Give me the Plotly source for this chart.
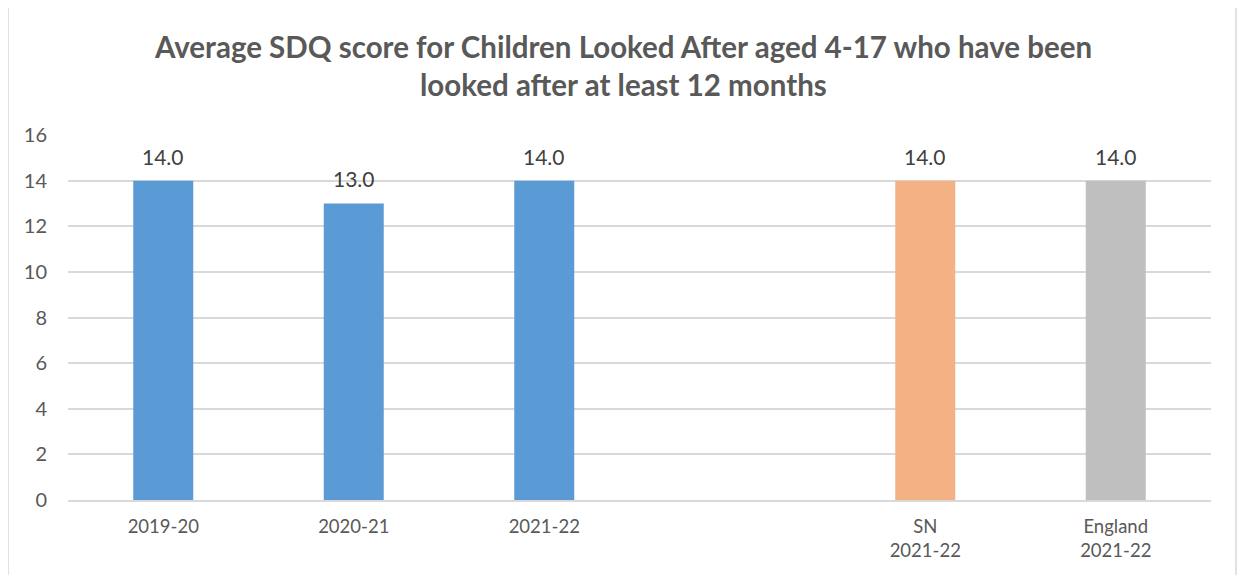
import plotly.graph_objects as go

categories = ["2019-20", "2020-21", "2021-22", " ", "SN<br>2021-22", "England<br>2021-22"]
scores = [14.0, 13.0, 14.0, None, 14.0, 14.0]
bar_colors = ["#5B9BD5", "#5B9BD5", "#5B9BD5", "#5B9BD5", "#F4B183", "#BFBFBF"]
y_ticks = [0, 2, 4, 6, 8, 10, 12, 14, 16]
title_lines = ["Average SDQ score for Children Looked After aged 4-17 who have been",
               "looked after at least 12 months"]

FONT = "Lato"
TXT = "#595959"

OFF = 8  # browser body margin
SW, SH = 1246, 575  # screen size
W, H = SW - OFF, SH - OFF
# target plot area in screen pixels
PX0, PX1, PY0, PY1 = 68, 1211, 135, 500
L, R = PX0 - OFF, W - (PX1 - OFF)
T, B = PY0 - OFF, H - (PY1 - OFF)
pw, ph = W - L - R, H - T - B


def sx(x):  # screen x -> paper
    return (x - PX0) / pw


def sy(y):  # screen y -> paper
    return (PY1 - y) / ph


fig = go.Figure()
fig.add_trace(go.Bar(x=categories, y=scores, marker=dict(color=bar_colors, line=dict(width=0)),
                     hoverinfo="x+y", showlegend=False))

annotations = []
for c, v in zip(categories, scores):
    if v is None:
        continue
    annotations.append(dict(x=c, y=v, xref="x", yref="y", text=f"{v:.1f}", showarrow=False,
                            yanchor="bottom", yshift=10,
                            font=dict(family=FONT, size=21, color="#404040")))

for line, ycen in zip(title_lines, [46, 85]):
    annotations.append(dict(x=sx(SW / 2), y=sy(ycen), xref="paper", yref="paper", text="<b>" + line + "</b>",
                            showarrow=False, yanchor="middle", xanchor="center",
                            font=dict(family=FONT, size=29.5, color=TXT)))

fig.update_layout(
    width=W, height=H,
    margin=dict(l=L, r=R, t=T, b=B, autoexpand=False),
    paper_bgcolor="white", plot_bgcolor="white",
    bargap=0.685,
    font=dict(family=FONT, color=TXT),
    annotations=annotations,
    shapes=[dict(type="rect", xref="paper", yref="paper",
                 x0=sx(8), x1=sx(1236), y0=sy(650), y1=sy(6),
                 line=dict(color="#D9D9D9", width=1.5), fillcolor="rgba(0,0,0,0)", layer="below")],
    xaxis=dict(type="category", categoryorder="array", categoryarray=categories,
               range=[-0.5, len(categories) - 0.5],
               showgrid=False, showline=True, linecolor="#D9D9D9", linewidth=1.5,
               ticks="", tickfont=dict(family=FONT, size=18.5, color=TXT), ticklabelstandoff=9),
    yaxis=dict(range=[0, 16], tickvals=y_ticks, showgrid=True, gridcolor="#D9D9D9", gridwidth=1.5,
               zeroline=False, showline=False, ticks="",
               tickfont=dict(family=FONT, size=20, color=TXT), ticklabelstandoff=20),
)

fig.write_html("out.html")
